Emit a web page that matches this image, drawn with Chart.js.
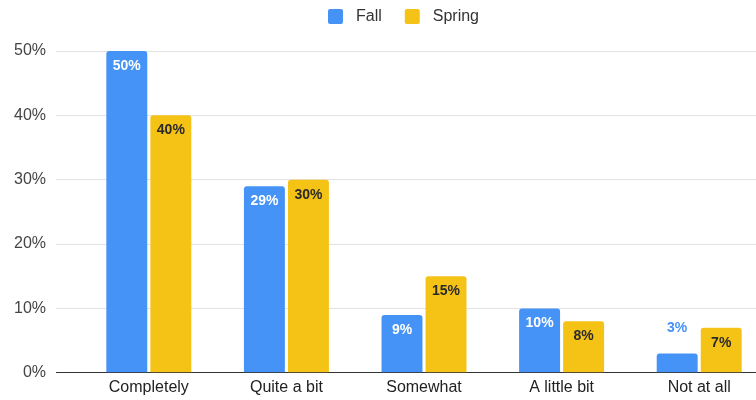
<!DOCTYPE html>
<html>
<head>
<meta charset="utf-8">
<script src="https://cdn.jsdelivr.net/npm/chart.js@4"></script>
<style>
  html, body { margin: 0; padding: 0; background: #fff; overflow: hidden; }
  #wrap { width: 807px; height: 400px; overflow: hidden; }
</style>
</head>
<body>
<div id="wrap"><canvas id="chart" width="807" height="406"></canvas></div>
<script>
const categories = ['Completely', 'Quite a bit', 'Somewhat', 'A little bit', 'Not at all'];
const fall = [50, 29, 9, 10, 3];
const spring = [40, 30, 15, 8, 7];
const yTicks = [0, 10, 20, 30, 40, 50];

const FONT = '"Liberation Sans", Arial, sans-serif';

// legend drawn by hand so the spacing matches the sheet style
const topLegend = {
    id: 'topLegend',
    afterDraw(chart) {
        const ctx = chart.ctx;
        ctx.save();
        ctx.font = '16px ' + FONT;
        ctx.textBaseline = 'middle';
        const items = chart.data.datasets.map(ds => ({ text: ds.label, color: ds.backgroundColor, w: ctx.measureText(ds.label).width }));
        let total = 0;
        items.forEach((it, i) => { total += 15 + 13 + it.w + (i < items.length - 1 ? 23 : 0); });
        let x = chart.width / 2 - total / 2;
        items.forEach(it => {
            ctx.fillStyle = it.color;
            ctx.beginPath();
            ctx.roundRect(x, 9, 15, 15, 2);
            ctx.fill();
            ctx.fillStyle = '#333';
            ctx.fillText(it.text, x + 28, 17);
            x += 15 + 13 + it.w + 23;
        });
        ctx.restore();
    }
};

// value labels on the bars
const barLabels = {
    id: 'barLabels',
    afterDatasetsDraw(chart) {
        const ctx = chart.ctx;
        ctx.save();
        ctx.font = 'bold 14px ' + FONT;
        ctx.textAlign = 'center';
        ctx.textBaseline = 'middle';
        chart.data.datasets.forEach((ds, i) => {
            chart.getDatasetMeta(i).data.forEach((bar, j) => {
                const h = bar.base - bar.y;
                const txt = ds.data[j] + '%';
                if (h > 30) {
                    ctx.fillStyle = i === 0 ? '#ffffff' : '#2a2a2a';
                    ctx.fillText(txt, bar.x, bar.y + 15);
                } else {
                    ctx.fillStyle = ds.backgroundColor;
                    ctx.fillText(txt, bar.x, bar.y - 25);
                }
            });
        });
        ctx.restore();
    }
};

new Chart(document.getElementById('chart'), {
    type: 'bar',
    data: {
        labels: categories,
        datasets: [
            { label: 'Fall', data: fall, backgroundColor: '#4593F6', borderRadius: 3 },
            { label: 'Spring', data: spring, backgroundColor: '#F5C216', borderRadius: 3 }
        ]
    },
    options: {
        responsive: false,
        animation: false,
        layout: { padding: { left: 4, right: 39, top: 51, bottom: 4 } },
        datasets: { bar: { categoryPercentage: 0.64, barPercentage: 0.93 } },
        plugins: {
            legend: { display: false },
            tooltip: { enabled: false }
        },
        scales: {
            x: {
                grid: { display: false, drawTicks: false },
                border: { display: false },
                ticks: { color: '#222', padding: 5, font: { family: FONT, size: 16 } }
            },
            y: {
                min: 0,
                max: 50,
                afterBuildTicks(axis) { axis.ticks = yTicks.map(v => ({ value: v })); },
                border: { display: false },
                grid: {
                    drawTicks: true,
                    tickLength: 24,
                    color: c => c.tick && c.tick.value === 0 ? '#333' : '#e2e2e2',
                    tickColor: c => c.tick && c.tick.value === 0 ? '#333' : '#e2e2e2'
                },
                ticks: {
                    color: '#444',
                    padding: 10,
                    font: { family: FONT, size: 16 },
                    callback: v => v + '%'
                }
            }
        }
    },
    plugins: [topLegend, barLabels]
});
</script>
</body>
</html>
